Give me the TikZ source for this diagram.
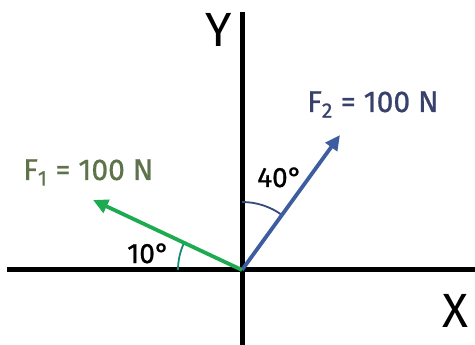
\documentclass[tikz,border=0pt]{standalone}
\usepackage{fontspec}
\setmainfont{Fira Sans}
\newfontfamily\medfont[FakeBold=0.8]{Fira Sans}
\usetikzlibrary{arrows.meta}
\definecolor{fgreen}{RGB}{30,170,80}
\definecolor{fblue}{RGB}{62,92,160}
\definecolor{lgreen}{RGB}{95,115,75}
\definecolor{lblue}{RGB}{55,65,105}
\tikzset{
  axis/.style={line width=5pt},
  force/.style={line width=3.8pt,-{Triangle[length=15pt,width=14pt]}},
  anglearc/.style={line width=1.8pt},
  lbl/.style={inner sep=0pt,anchor=base west},
  big/.style={lbl,font=\fontsize{48}{48}\selectfont},
  mid/.style={lbl,font=\medfont\fontsize{30}{30}\selectfont},
  sml/.style={lbl,font=\medfont\fontsize{28}{28}\selectfont}
}
\begin{document}
\begin{tikzpicture}[x=1pt,y=-1pt]
\useasboundingbox (0,0) rectangle (475,345);
\coordinate (O) at (242,270);
\coordinate (xl) at (7,270);
\coordinate (xr) at (475,270);
\coordinate (yt) at (242,12);
\coordinate (yb) at (242,345);
\draw[axis] (xl) -- (xr);
\draw[axis] (yt) -- (yb);
\coordinate (F2) at (340,135);
\coordinate (F1) at (93,200);
\draw[anglearc,fgreen!80!blue] (O) ++(180:64) arc[start angle=180,end angle=205.2,radius=64];
\draw[anglearc,fblue!80!black] (O) ++(270:68) arc[start angle=270,end angle=306,radius=68];
\draw[force,fblue] (O) -- (F2);
\draw[force,fgreen] (O) -- (F1);
\node[big] (ylab) at (205,47) {Y};
\node[big] (xlab) at (442,327) {X};
\node[mid,lgreen] (f1lab) at (23,180) {F\textsubscript{1} = 100 N};
\node[mid,lblue] (f2lab) at (307,112) {F\textsubscript{2} = 100 N};
\node[sml] (a1) at (127,263) {10°};
\node[sml] (a2) at (257,187) {40°};
\end{tikzpicture}
\end{document}
